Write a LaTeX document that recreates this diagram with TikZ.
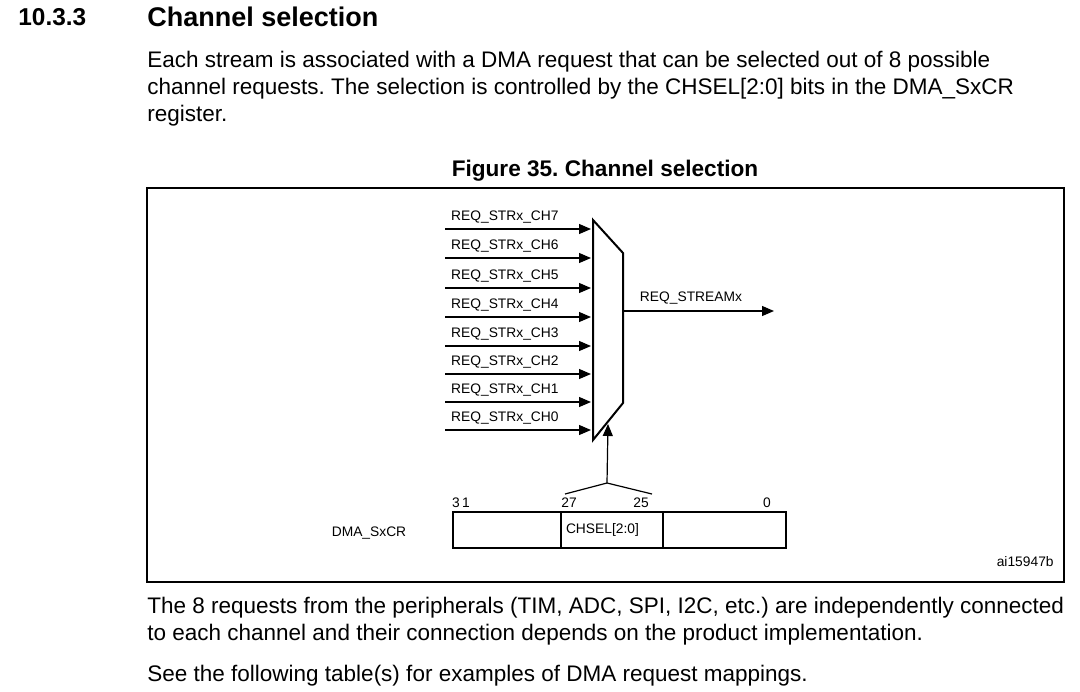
\documentclass[tikz,border=0pt]{standalone}
\usepackage{fontspec}
\setmainfont{Liberation Sans}
\usetikzlibrary{arrows.meta,positioning}
\frenchspacing

\begin{document}
\begin{tikzpicture}[x=0.5pt,y=-0.5pt,
  every node/.style={inner sep=0pt},
  body/.style={anchor=west,font=\fontsize{11.25}{13}\selectfont},
  sig/.style={font=\fontsize{6.9}{8}\selectfont},
  reg/.style={draw,line width=0.9pt,minimum height=18pt,outer sep=0pt},
  req/.style={-{Triangle[length=6pt,width=5pt]},line width=0.6pt}]
  \useasboundingbox (0,0) rectangle (1080,691);

  % heading and text
  \node[anchor=west,font=\fontsize{12.2}{15}\bfseries] (nSec) at (18,17) {10.3.3};
  \node[anchor=west,font=\fontsize{13.5}{15}\bfseries] (nHead) at (147,17) {Channel selection};
  \node[body] (nP1) at (147,62) {Each stream is associated with a DMA request that can be selected out of 8 possible};
  \node[body] (nP2) at (147,89) {channel requests. The selection is controlled by the CHSEL[2:0] bits in the DMA\_SxCR};
  \node[body] (nP3) at (147,116) {register.};
  \node[font=\fontsize{11.3}{13}\bfseries] (nFig) at (605,171) {Figure 35. Channel selection};
  \draw[line width=1pt] (147,188) rectangle (1064,582);

  % mux
  \draw[line width=1pt] (593,220) -- (623,253) -- (623,403) -- (593,440) -- cycle;
  \coordinate (nOut) at (623,311);
  \coordinate (nSel) at (608,424);

  \coordinate (sA) at (445,229);  \coordinate (eA) at (591,229);
  \coordinate (sB) at (445,258);  \coordinate (eB) at (591,258);
  \coordinate (sC) at (445,288);  \coordinate (eC) at (591,288);
  \coordinate (sD) at (445,317);  \coordinate (eD) at (591,317);
  \coordinate (sE) at (445,346);  \coordinate (eE) at (591,346);
  \coordinate (sF) at (445,374);  \coordinate (eF) at (591,374);
  \coordinate (sG) at (445,402);  \coordinate (eG) at (591,402);
  \coordinate (sH) at (445,430);  \coordinate (eH) at (591,430);

  \path[every node/.style={sig,anchor=south,inner sep=2.5pt}]
        (sA) edge[req] node[pos=.41] {REQ\_STRx\_CH7} (eA)
        (sB) edge[req] node[pos=.41] {REQ\_STRx\_CH6} (eB)
        (sC) edge[req] node[pos=.41] {REQ\_STRx\_CH5} (eC)
        (sD) edge[req] node[pos=.41] {REQ\_STRx\_CH4} (eD)
        (sE) edge[req] node[pos=.41] {REQ\_STRx\_CH3} (eE)
        (sF) edge[req] node[pos=.41] {REQ\_STRx\_CH2} (eF)
        (sG) edge[req] node[pos=.41] {REQ\_STRx\_CH1} (eG)
        (sH) edge[req] node[pos=.41] {REQ\_STRx\_CH0} (eH);

  \coordinate (nDst) at (774,311);
  \draw[req] (nOut) -- node[sig,anchor=south,inner sep=3pt,pos=.45] {REQ\_STREAMx} (nDst);

  % register
  \node[reg,minimum width=54pt] (nRegL) at (507,530) {};
  \node[reg,minimum width=51pt,sig,text width=46pt,align=left] (nRegM) at (612,530) {CHSEL[2:0]};
  \node[reg,minimum width=61.5pt] (nRegR) at (724.5,530) {};
  \node[sig] (nName) at (369,533) {DMA\_SxCR};
  \node[sig,anchor=south] (nB31) at (461,508) {3\,1};
  \node[sig,anchor=south] (nB27) at (569,508) {27};
  \node[sig,anchor=south] (nB25) at (641,508) {25};
  \node[sig,anchor=south] (nB0) at (767,508) {0};

  \coordinate (nApex) at (607,483);
  \draw[line width=0.6pt] (565,494) -- (nApex) -- (652,494);
  \draw[req] (nApex) -- (nSel);

  \node[sig,anchor=east] (nRef) at (1054,562) {ai15947b};

  % text below
  \node[body] (nP4) at (147,608) {The 8 requests from the peripherals (TIM, ADC, SPI, I2C, etc.) are independently connected};
  \node[body] (nP5) at (147,635) {to each channel and their connection depends on the product implementation.};
  \node[body] (nP6) at (147,676) {See the following table(s) for examples of DMA request mappings.};
\end{tikzpicture}
\end{document}
